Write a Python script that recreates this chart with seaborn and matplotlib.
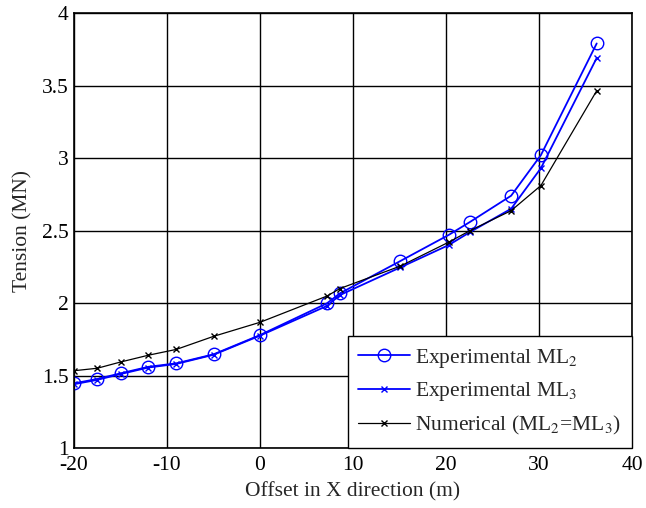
import matplotlib
matplotlib.use("Agg")
import matplotlib.pyplot as plt
import seaborn as sns
import pandas as pd

# Offsets (m) and mooring line tensions (MN)
offset = [-20, -17.5, -15, -12, -9, -5, 0, 7.2, 8.6, 15.1, 20.3, 22.6, 27.0, 30.2, 36.2]
exp_ml2 = [1.446, 1.476, 1.515, 1.56, 1.584, 1.646, 1.779, 1.998, 2.067, 2.29, 2.47, 2.56, 2.74, 3.02, 3.79]
exp_ml3 = [1.44, 1.47, 1.51, 1.555, 1.58, 1.643, 1.775, 1.98, 2.055, 2.246, 2.40, 2.49, 2.65, 2.93, 3.69]
numerical = [1.533, 1.55, 1.593, 1.64, 1.68, 1.77, 1.867, 2.048, 2.10, 2.255, 2.42, 2.50, 2.637, 2.81, 3.464]

x_ticks = [-20, -10, 0, 10, 20, 30, 40]
y_ticks = [1, 1.5, 2, 2.5, 3, 3.5, 4]
y_tick_labels = ["1", "1.5", "2", "2.5", "3", "3.5", "4"]

sns.set_style("white")
plt.rcParams["font.family"] = ["Liberation Serif", "DejaVu Serif"]
plt.rcParams["mathtext.fontset"] = "stix"

df = pd.DataFrame({"offset": offset, "ml2": exp_ml2, "ml3": exp_ml3, "num": numerical})

fig = plt.figure(figsize=(6.46, 5.08), dpi=100)
ax = fig.add_axes([0.1146, 0.1181, 0.8638, 0.8563])

sns.lineplot(data=df, x="offset", y="ml2", ax=ax, color="#0000ff", lw=1.3,
             marker="o", markersize=9, markerfacecolor="none",
             markeredgecolor="#0000ff", markeredgewidth=1.0,
             label="Experimental ML$_2$")
sns.lineplot(data=df, x="offset", y="ml3", ax=ax, color="#0000ff", lw=1.3,
             marker="x", markersize=5, markeredgecolor="#0000ff",
             markeredgewidth=1.0, label="Experimental ML$_3$")
sns.lineplot(data=df, x="offset", y="num", ax=ax, color="black", lw=0.9,
             marker="x", markersize=5, markeredgecolor="black",
             markeredgewidth=1.0, label="Numerical (ML$_2$=ML$_3$)")

ax.set_xlim(-20, 40)
ax.set_ylim(1, 4)
ax.set_xticks(x_ticks)
ax.set_xticklabels([str(t) for t in x_ticks])
ax.set_yticks(y_ticks)
ax.set_yticklabels(y_tick_labels)
ax.grid(True, color="black", linewidth=1.0)
ax.set_axisbelow(True)
for s in ax.spines.values():
    s.set_color("black")
    s.set_linewidth(1.2)
ax.tick_params(axis="both", labelsize=15.5, colors="black", length=0)
ax.tick_params(axis="x", pad=6)
ax.tick_params(axis="y", pad=4)

ax.set_xlabel("Offset in X direction (m)", fontsize=15.5, labelpad=5)
ax.set_ylabel("Tension (MN)", fontsize=15.5, labelpad=7)

leg = ax.legend(loc="lower right", bbox_to_anchor=(1.0, 0.0), borderaxespad=0,
                fontsize=15.5, frameon=True, fancybox=False, handlelength=2.4,
                handletextpad=0.25, labelspacing=0.5, borderpad=0.5)
leg.get_frame().set_edgecolor("black")
leg.get_frame().set_linewidth(1.0)
leg.get_frame().set_alpha(1)

fig.savefig("out.png", dpi=100)
